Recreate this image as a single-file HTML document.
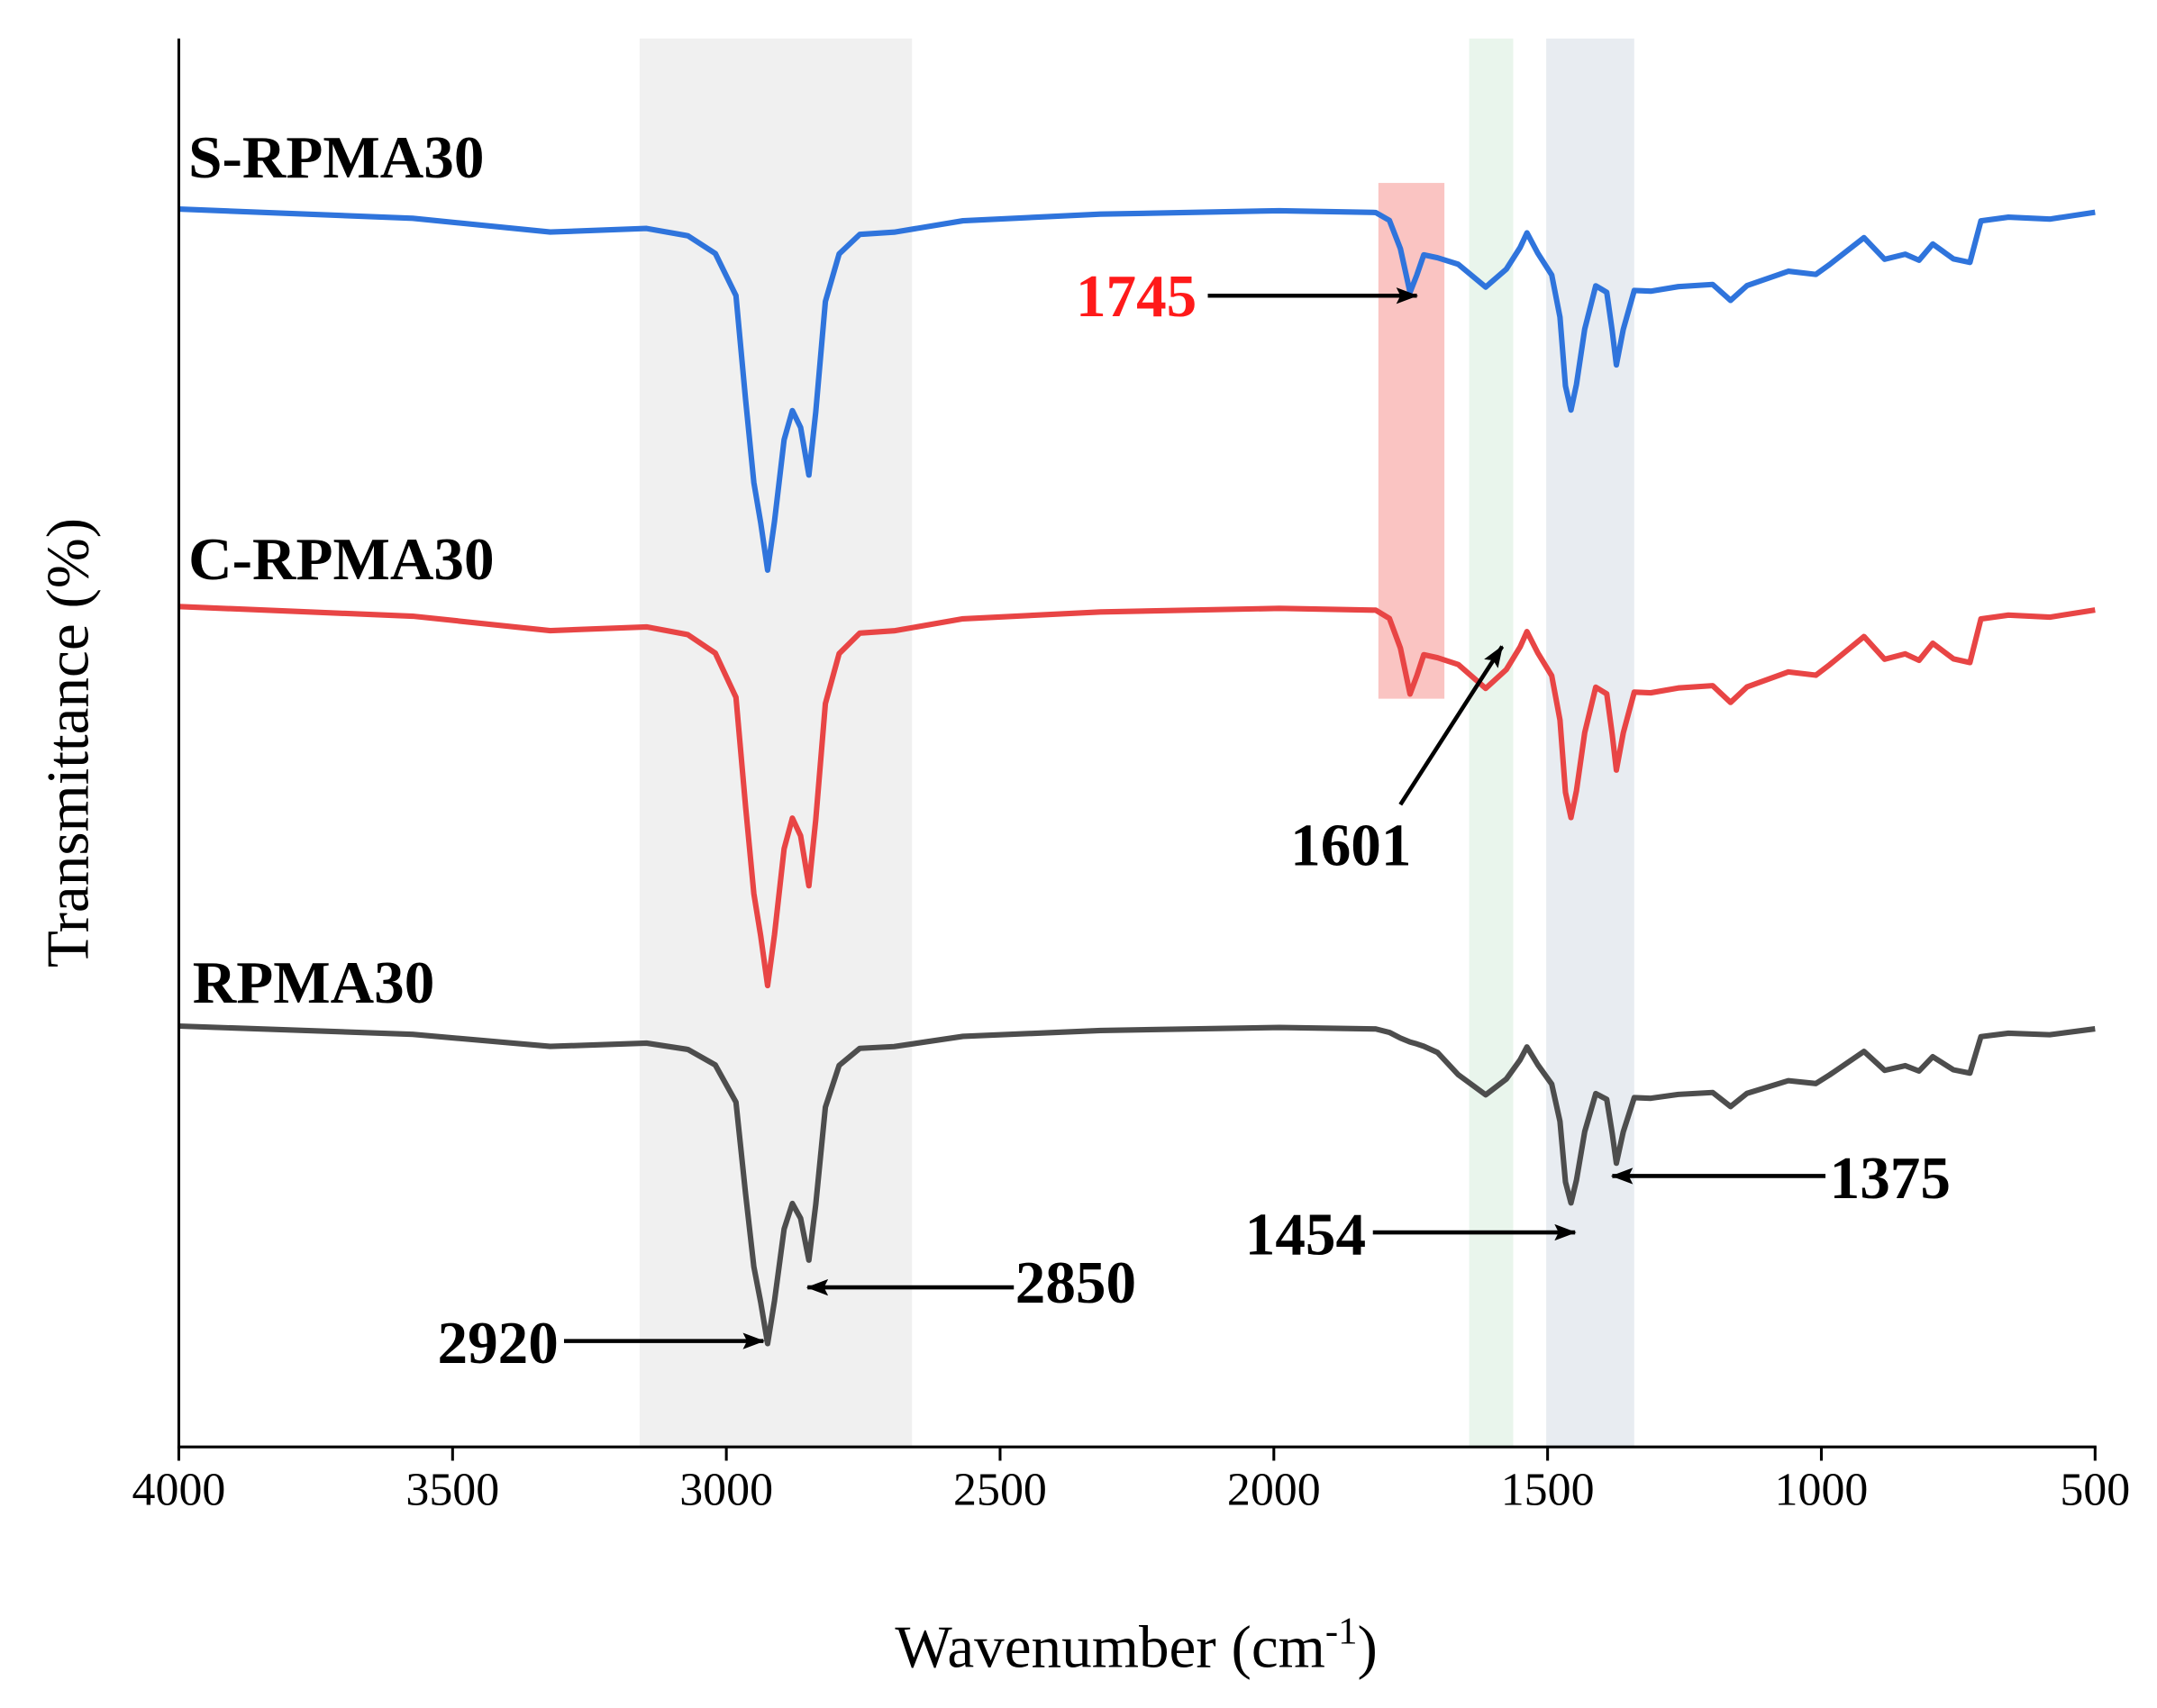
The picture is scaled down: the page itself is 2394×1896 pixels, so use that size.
<!DOCTYPE html>
<html><head><meta charset="utf-8"><style>
html,body{margin:0;padding:0;background:#fff;}
svg{display:block;}
text{font-family:"Liberation Serif",serif;}
</style></head><body>
<svg id="s" width="2394" height="1896" viewBox="0 0 1568 1241.8" preserveAspectRatio="none" xmlns="http://www.w3.org/2000/svg">
<defs>
<marker id="ah" markerWidth="16" markerHeight="12" refX="15" refY="6" orient="auto" markerUnits="userSpaceOnUse">
<path d="M0,0 L16,6 L0,12 L3,6 Z" fill="#000"/></marker>
</defs>
<rect x="465" y="28" width="198" height="1024" fill="#f0f0f0"/>
<rect x="1068" y="28" width="32" height="1024" fill="#e9f5ec"/>
<rect x="1124" y="28" width="64" height="1024" fill="#e8ecf1"/>
<rect x="1002" y="133" width="48" height="375" fill="#f8b0ae" opacity="0.75"/>
<g id="curves" fill="none" stroke-width="4" stroke-linejoin="round"></g>
<line x1="130" y1="28" x2="130" y2="1053" stroke="#000" stroke-width="2"/>
<line x1="129" y1="1052" x2="1524" y2="1052" stroke="#000" stroke-width="2"/>
<g stroke="#000" stroke-width="2">
<line x1="130" y1="1052" x2="130" y2="1062"/><line x1="329" y1="1052" x2="329" y2="1062"/>
<line x1="528" y1="1052" x2="528" y2="1062"/><line x1="727" y1="1052" x2="727" y2="1062"/>
<line x1="926" y1="1052" x2="926" y2="1062"/><line x1="1125" y1="1052" x2="1125" y2="1062"/>
<line x1="1324" y1="1052" x2="1324" y2="1062"/><line x1="1523" y1="1052" x2="1523" y2="1062"/>
</g>
<g font-size="34" text-anchor="middle">
<text x="130" y="1094">4000</text><text x="329" y="1094">3500</text><text x="528" y="1094">3000</text>
<text x="727" y="1094">2500</text><text x="926" y="1094">2000</text><text x="1125" y="1094">1500</text>
<text x="1324" y="1094">1000</text><text x="1523" y="1094">500</text>
</g>
<text x="826" y="1212" font-size="44" text-anchor="middle">Wavenumber (cm<tspan dy="-17" font-size="28">-1</tspan><tspan dy="17">)</tspan></text>
<text transform="translate(64,540) rotate(-90)" font-size="44" text-anchor="middle">Transmittance (%)</text>
<g font-size="44" font-weight="bold">
<text x="137" y="129">S-RPMA30</text>
<text x="137" y="421">C-RPMA30</text>
<text x="140" y="729">RPMA30</text>
<text x="782" y="230" fill="#ff1a1a">1745</text>
<text x="938" y="629">1601</text>
<text x="318" y="991">2920</text>
<text x="738" y="947">2850</text>
<text x="905" y="912">1454</text>
<text x="1330" y="871">1375</text>
</g>
<g stroke="#000" stroke-width="3" marker-end="url(#ah)">
<line x1="878" y1="215" x2="1030" y2="215"/>
<line x1="1018" y1="585" x2="1092" y2="470"/>
<line x1="410" y1="975" x2="555" y2="975"/>
<line x1="737" y1="936" x2="587" y2="936"/>
<line x1="998" y1="896" x2="1145" y2="896"/>
<line x1="1327" y1="855" x2="1172" y2="855"/>
</g>
</svg>
<script>
var P=[[130,152],[300,158],[400,168],[470,166],[500,172],[520,185],[535,215],[542,290],[548,350],[553,380],[558,415],[563,380],[570,320],[576,298],[582,310],[588,345],[593,300],[600,220],[610,185],[625,170],[650,168],[700,160],[800,156],[930,154],[1000,155],[1010,160],[1018,180],[1025,212],[1030,200],[1035,186],[1045,188],[1060,192],[1080,208],[1095,195],[1105,180],[1110,170],[1118,185],[1128,200],[1134,230],[1138,280],[1142,298],[1146,280],[1152,240],[1160,208],[1168,212],[1172,240],[1175,265],[1180,240],[1188,212],[1200,212],[1220,208],[1245,206],[1258,218],[1270,208],[1300,198],[1320,200],[1330,192],[1355,172],[1370,188],[1385,185],[1395,190],[1405,178],[1420,188],[1432,190],[1440,160],[1460,158],[1490,160],[1523,155]];
function mk(base,k,color,noC){
 var d="";
 P.forEach(function(p,i){
  var x=p[0],dv=p[1]-152;
  if(noC&&x>=1010&&x<=1045)dv=(x-1000)*0.5;
  var y=base+k*dv+(Math.sin(i*7.3)*0.8);
  d+=(i?"L":"M")+x+","+y.toFixed(1);
 });
 var e=document.createElementNS("http://www.w3.org/2000/svg","path");
 e.setAttribute("d",d);e.setAttribute("stroke",color);
 document.getElementById("curves").appendChild(e);
}
mk(152,1,"#2f74dc",false);
mk(441,1.05,"#e84545",false);
mk(746,0.88,"#4d4d4d",true);
</script>
</body></html>
